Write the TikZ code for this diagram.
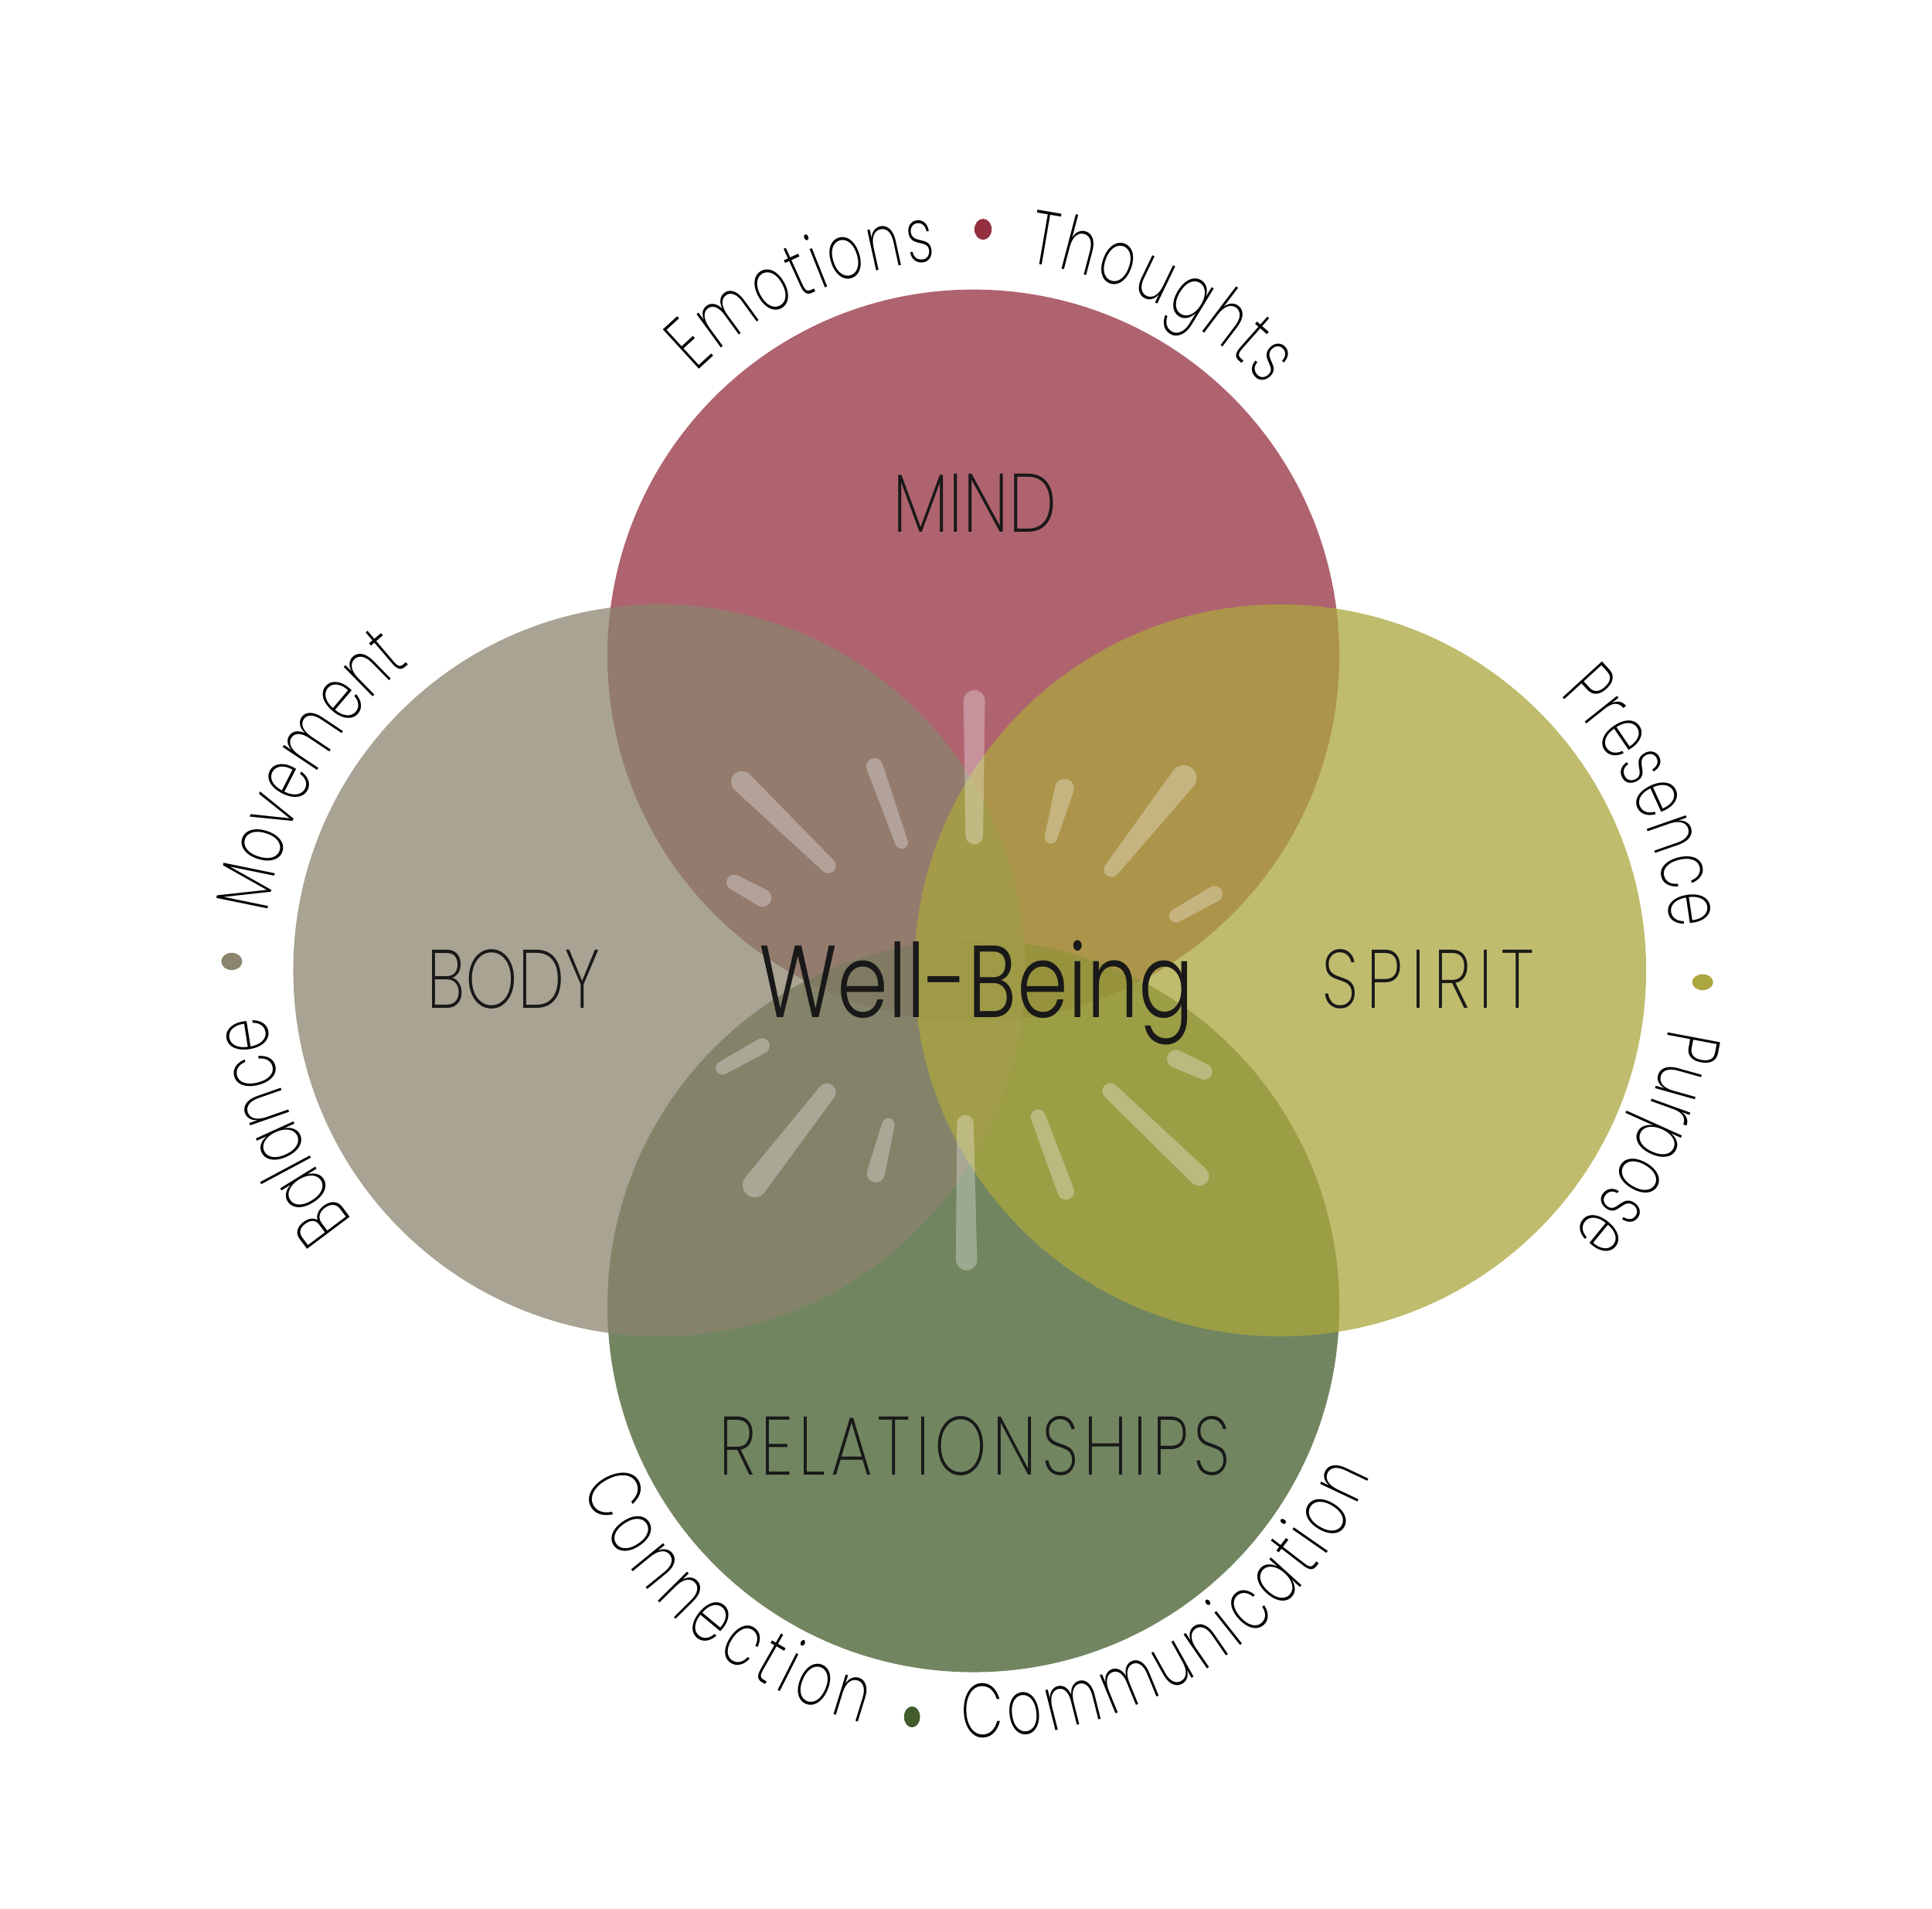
\documentclass[tikz,border=0pt]{standalone}
\usepackage{fontspec}
\setmainfont{Poppins}[UprightFont=* Light]
\newfontfamily\finafont{Poppins}[UprightFont=* ExtraLight]
\newfontfamily\anelfamilia{Poppins}[UprightFont=* ExtraLight, FakeStretch=0.72]
\usetikzlibrary{decorations.text, calc}

\definecolor{mindc}{HTML}{942F3F}
\definecolor{bodyc}{HTML}{8B846E}
\definecolor{spiritc}{HTML}{ABA63E}
\definecolor{relc}{HTML}{425C2C}
\newcommand{\anelfont}{\fontsize{28}{30}\anelfamilia}
% pincelada afinada: (x1,y1) largura1, (x2,y2) largura2
\newcommand{\pincel}[6]{%
  \fill[pincelada] let \p1=($(#4,#5)-(#1,#2)$), \n1={atan2(\y1,\x1)} in
    ($(#1,#2)+(\n1+90:#3/2+1.5)$) -- ($(#4,#5)+(\n1+90:#6/2+1.5)$)
    arc[start angle=\n1+90, end angle=\n1-90, radius=#6/2+1.5]
    -- ($(#1,#2)+(\n1-90:#3/2+1.5)$)
    arc[start angle=\n1-90, end angle=\n1-270, radius=#3/2+1.5] -- cycle;}

\begin{document}
\begin{tikzpicture}[x=0.015944cm, y=0.015944cm,
    area/.style={fill opacity=0.75},
    rotulo/.style={font=\fontsize{30.5}{32}\finafont, text=black!90, inner sep=0pt, anchor=base},
    pincelada/.style={fill=white, fill opacity=0.3},
    curva/.style={decorate, decoration={text along path, text align={fit to path}, text={#1}}}]
    \useasboundingbox (0,0) rectangle (1568,1549);

    % Centros dos circulos
    \coordinate (mind) at (790,1017);
    \coordinate (body) at (535,761.5);
    \coordinate (spirit) at (1039,761.5);
    \coordinate (rel) at (790,489);

    % Circulos
    \fill[mindc, area] (mind) circle[radius=297];
    \fill[relc, area] (rel) circle[radius=297];
    \fill[bodyc, area] (body) circle[radius=297];
    \fill[spiritc, area] (spirit) circle[radius=297];

    % Raios ao redor do centro
    \pincel{790.7}{980.3}{14.4}{790.7}{871}{11.3} % cima
    \pincel{783.4}{637.5}{10.5}{784.4}{526.7}{14.2} % baixo
    \pincel{602.1}{914.5}{14.6}{672.2}{846.5}{9.4}
    \pincel{709.8}{927}{10.5}{731.7}{865.4}{7.3}
    \pincel{595.8}{833}{9.4}{618.8}{820.4}{11.5}
    \pincel{863.9}{909.3}{12.5}{853}{869.5}{7.3}
    \pincel{960.7}{917.6}{17.8}{902.1}{843.4}{9.4}
    \pincel{985.7}{823.5}{10}{954.4}{805.8}{8}
    \pincel{618.4}{700.2}{9.4}{586.4}{682.4}{8}
    \pincel{671.1}{662.6}{11.5}{612.6}{587.3}{16.7}
    \pincel{720.9}{636.4}{7.3}{710.8}{596.7}{11.5}
    \pincel{954.4}{689.7}{11.5}{977.4}{679.3}{10}
    \pincel{901.1}{663.6}{10}{973.2}{594.6}{13}
    \pincel{842.5}{642.7}{9}{865.1}{582.1}{10.5}

    % Rotulos
    \node[rotulo] (lblmind) at (791,1117) {\scalebox{0.825}[1]{MIND}};
    \node[rotulo] (lblbody) at (417,731) {\scalebox{0.8}[1]{BODY}};
    \node[rotulo] (lblspirit) at (1159,731) {\scalebox{0.8}[1]{S\kern3.8pt P\kern3.8pt I\kern3.8pt R\kern3.8pt I\kern3.8pt T}};
    \node[rotulo] (lblrel) at (791,352) {\scalebox{0.8}[1]{R\kern2.4pt E\kern2.4pt L\kern2.4pt A\kern2.4pt T\kern2.4pt I\kern2.4pt O\kern2.4pt N\kern2.4pt S\kern2.4pt H\kern2.4pt I\kern2.4pt P\kern2.4pt S}};
    \node[rotulo, font=\fontsize{37.7}{40}\selectfont] (bemestar) at (792.5,723) {\scalebox{0.8}[1]{Well-Being}};

    % Textos curvos - MIND
    \path[curva={|\anelfont|Emotions}] (mind) ++(134.4:322) arc[start angle=134.4, end angle=95.4, radius=322];
    \fill[mindc] (mind) ++(88.7:346) ellipse[x radius=7, y radius=8.5];
    \path[curva={|\anelfont|Thoughts}] (mind) ++(82.2:322) arc[start angle=82.2, end angle=42.7, radius=322];

    % Textos curvos - SPIRIT
    \path[curva={|\anelfont|Presence}] (spirit) ++(44.6:319) arc[start angle=44.6, end angle=6, radius=319];
    \fill[spiritc] (spirit) ++(-1.6:343) ellipse[x radius=8.5, y radius=6.5];
    \path[curva={|\anelfont|Purpose}] (spirit) ++(-8.5:319) arc[start angle=-8.5, end angle=-41.9, radius=319];

    % Textos curvos - BODY
    \path[curva={|\anelfont|Balance}] (body) ++(219.2:321) arc[start angle=219.2, end angle=186.5, radius=321];
    \fill[bodyc] (body) ++(178.8:347) ellipse[x radius=8.5, y radius=7];
    \path[curva={|\anelfont|Movement}] (body) ++(171.7:321) arc[start angle=171.7, end angle=129.1, radius=321];

    % Textos curvos - RELATIONSHIPS
    \path[curva={|\anelfont|Connection}] (rel) ++(204.8:350) arc[start angle=204.8, end angle=255.1, radius=350];
    \fill[relc] (rel) ++(261.5:337) ellipse[x radius=6.5, y radius=8.5];
    \path[curva={|\anelfont|Communication}] (rel) ++(268.4:350) arc[start angle=268.4, end angle=336.9, radius=350];
\end{tikzpicture}
\end{document}
